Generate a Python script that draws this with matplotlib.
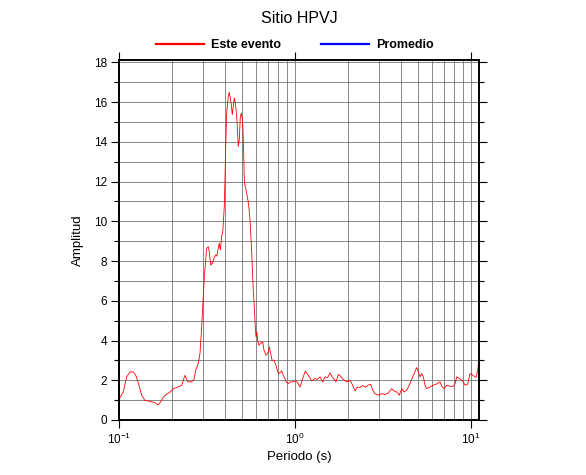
import matplotlib
matplotlib.use("Agg")
import matplotlib.pyplot as plt
from matplotlib.lines import Line2D
from matplotlib.ticker import MultipleLocator, LogLocator, NullFormatter

plt.rcParams['font.family'] = ['Liberation Sans', 'DejaVu Sans']
plt.rcParams['mathtext.fontset'] = 'custom'
plt.rcParams['mathtext.rm'] = 'Liberation Sans'
plt.rcParams['mathtext.it'] = 'Liberation Sans:italic'
plt.rcParams['mathtext.bf'] = 'Liberation Sans:bold'

TITLE = "Sitio HPVJ"
LEG_LABELS = ["Este evento", "Promedio"]

# spectral ratio (period in s, amplitude)
periodo = [0.100, 0.1058, 0.1106, 0.1155, 0.1206, 0.1245, 0.1277, 0.1316, 0.1346,
           0.1405, 0.150, 0.1588, 0.1672, 0.1725, 0.1786, 0.1866, 0.1948, 0.2036,
           0.2173, 0.2271, 0.2319, 0.2372, 0.2456, 0.2588, 0.2668, 0.2728, 0.2822,
           0.2886, 0.2951, 0.3013, 0.3054, 0.3111, 0.3150, 0.3216, 0.3258, 0.3319,
           0.3389, 0.3465, 0.3543, 0.3603, 0.3664, 0.3715, 0.3765, 0.3834, 0.3899,
           0.3914, 0.3966, 0.4002, 0.4039, 0.4092, 0.4178, 0.4233, 0.4289, 0.4345,
           0.4402, 0.4460, 0.4519, 0.4578, 0.4638, 0.4699, 0.4761, 0.4824, 0.4887,
           0.4951, 0.5017, 0.5062, 0.5108, 0.5149, 0.5196, 0.5314, 0.5383, 0.5454,
           0.5548, 0.5600, 0.5675, 0.5740, 0.5794, 0.5872, 0.5950, 0.6005, 0.6060,
           0.6140, 0.6219, 0.6384, 0.6553, 0.6666, 0.6842, 0.6998, 0.7145, 0.7278,
           0.7403, 0.7599, 0.7799, 0.7976, 0.8144, 0.8402, 0.8581, 0.8773, 0.8889,
           0.9161, 0.9453, 0.9780, 1.013, 1.036, 1.068, 1.106, 1.144, 1.190, 1.244,
           1.299, 1.339, 1.387, 1.437, 1.481, 1.534, 1.581, 1.629, 1.710, 1.762,
           1.818, 1.881, 1.966, 2.054, 2.127, 2.193, 2.259, 2.340, 2.425, 2.532,
           2.609, 2.692, 2.764, 2.848, 2.973, 3.109, 3.246, 3.390, 3.544, 3.652,
           3.783, 3.914, 4.040, 4.163, 4.312, 4.502, 4.701, 4.915, 5.019, 5.131,
           5.247, 5.358, 5.478, 5.601, 5.848, 6.106, 6.434, 6.666, 6.815, 7.024,
           7.276, 7.597, 7.933, 8.111, 8.294, 8.580, 8.970, 9.245, 9.578, 9.870,
           10.22, 10.68, 10.92, 11.06, 11.15]
amplitud = [1.04, 1.41, 2.17, 2.42, 2.42, 2.25, 1.97, 1.58, 1.25,
            0.99, 0.94, 0.88, 0.76, 0.91, 1.16, 1.30, 1.40, 1.58,
            1.66, 1.75, 2.00, 2.25, 1.92, 1.92, 2.04, 2.51, 2.84,
            3.35, 4.69, 6.20, 7.21, 8.05, 8.64, 8.72, 8.47, 7.80,
            7.89, 8.14, 8.31, 8.25, 8.64, 8.90, 8.56, 9.23, 9.57,
            9.90, 10.74, 12.09, 13.77, 15.45, 16.29, 16.49, 16.21, 15.87,
            15.37, 15.78, 16.21, 15.96, 15.53, 14.86, 13.77, 14.10, 15.20,
            15.45, 15.20, 14.69, 13.51, 12.17, 11.84, 11.42, 11.16, 10.83,
            10.10, 9.40, 8.50, 7.30, 6.54, 5.70, 4.69, 4.19, 4.44,
            4.02, 3.77, 3.85, 3.93, 3.51, 3.26, 3.35, 3.68, 3.35,
            3.01, 3.01, 2.76, 2.42, 2.34, 2.47, 2.25, 2.09, 1.92,
            1.83, 1.92, 1.92, 1.97, 1.87, 1.66, 2.09, 2.46, 2.25, 1.97,
            2.09, 2.04, 2.17, 1.92, 2.17, 2.14, 2.37, 2.17, 1.92, 2.29,
            2.20, 2.04, 1.92, 2.00, 1.75, 1.46, 1.66, 1.63, 1.73, 1.66,
            1.76, 1.80, 1.50, 1.33, 1.25, 1.33, 1.28, 1.36, 1.58, 1.46,
            1.41, 1.25, 1.58, 1.41, 1.50, 1.83, 2.25, 2.64, 2.42, 2.17,
            2.34, 2.17, 1.75, 1.58, 1.66, 1.75, 1.83, 1.92, 1.70, 1.58,
            1.75, 1.70, 1.70, 1.83, 2.17, 2.09, 1.97, 1.75, 1.80, 2.34,
            2.25, 2.14, 2.51, 3.05, 3.05]

fig = plt.figure(figsize=(5.86, 4.75), dpi=100)
ax = fig.add_axes([0.203, 0.1158, 0.615, 0.7579])

ax.plot(periodo, amplitud, color='red', lw=0.6)

ax.set_xscale('log')
ax.set_xlim(0.1, 11.15)
ax.set_ylim(0, 18.12)
ax.yaxis.set_major_locator(MultipleLocator(2))
ax.yaxis.set_minor_locator(MultipleLocator(1))
ax.xaxis.set_major_locator(LogLocator(base=10))
ax.xaxis.set_minor_locator(LogLocator(base=10, subs=range(2, 10)))
ax.xaxis.set_minor_formatter(NullFormatter())

ax.grid(True, which='both', color='0.45', lw=0.6)
ax.set_axisbelow(True)
for s in ax.spines.values():
    s.set_linewidth(1.4)

ax.tick_params(which='major', direction='out', length=5.5, width=0.8, labelsize=8.5,
               top=True, right=True, pad=3)
ax.tick_params(which='minor', axis='y', direction='out', length=3.5, width=0.8,
               right=True)
ax.tick_params(which='minor', axis='x', length=0)

ax.set_xlabel("Periodo (s)", fontsize=9.5, va='center')
ax.xaxis.set_label_coords(0.5, -0.103)
ax.set_ylabel("Amplitud", fontsize=9.5, va='center')
ax.yaxis.set_label_coords(-0.114, 0.5)

fig.text(0.51, 0.962, TITLE, ha='center', va='center', fontsize=11.5)

handles = [Line2D([], [], color='red', lw=1.6), Line2D([], [], color='blue', lw=1.6)]
fig.legend(handles, LEG_LABELS, loc='center', bbox_to_anchor=(0.503, 0.905), ncol=2,
           frameon=False, prop={'weight': 'bold', 'size': 9},
           handlelength=3.85, handletextpad=0.55, columnspacing=3.2, borderpad=0)

fig.savefig("out.png", dpi=100)
